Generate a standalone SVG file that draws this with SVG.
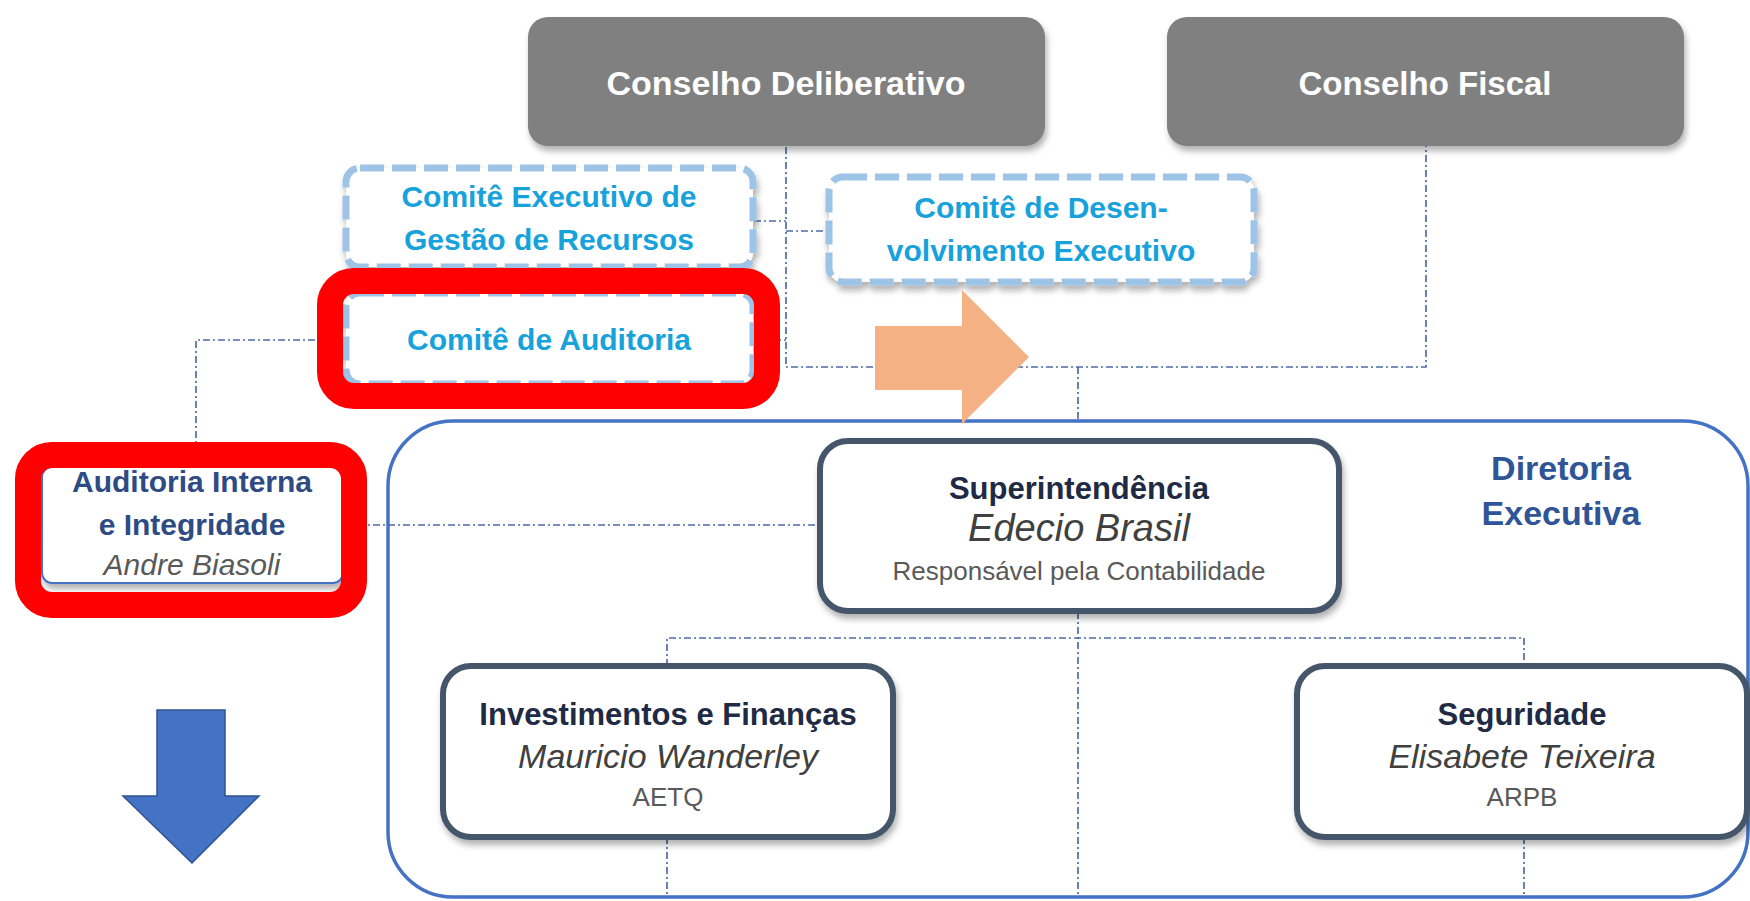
<svg xmlns="http://www.w3.org/2000/svg" width="1750" height="901" viewBox="0 0 1750 901">
<defs>
<filter id="sh" x="-10%" y="-20%" width="120%" height="150%">
<feDropShadow dx="2" dy="5" stdDeviation="3" flood-color="#000" flood-opacity="0.3"/>
</filter>
<style>
text{font-family:"Liberation Sans",Arial,sans-serif;text-anchor:middle}
.council{fill:#808080;filter:url(#sh)}
.ct{fill:#fff;font-weight:bold;font-size:34px}
.com{fill:#fff;stroke:#9DC3E6;stroke-width:7;stroke-dasharray:24 8;filter:url(#sh)}
.cmt{fill:#17A2DB;font-weight:bold;font-size:30px}
.dir{fill:#fff;stroke:#44546A;stroke-width:6;filter:url(#sh)}
.dt{fill:#1F2A44;font-weight:bold;font-size:31px}
.nm{fill:#404040;font-style:italic;font-size:34px}
.sub{fill:#595959;font-size:26px}
.conn{fill:none;stroke:#4F6BA6;stroke-width:1.7;stroke-dasharray:7 3 2 3}
.hl{fill:none;stroke:#FF0000;stroke-width:26}
</style>
</defs>
<rect width="1750" height="901" fill="#fff"/>

<g id="diretoria-executiva">
<rect x="388" y="421" width="1360" height="476" rx="65" fill="#fff" stroke="#4472C4" stroke-width="3.5"/>
<text x="1561" y="480" style="fill:#2F5597;font-weight:bold;font-size:34px">Diretoria</text>
<text x="1561" y="525" style="fill:#2F5597;font-weight:bold;font-size:34px">Executiva</text>
</g>

<g id="connectors">
<path class="conn" d="M786 147 V367 H1426 V146"/>
<path class="conn" d="M754 221 H786"/>
<path class="conn" d="M786 231 H828"/>
<path class="conn" d="M754 340 H786"/>
<path class="conn" d="M345 340 H196 V455"/>
<path class="conn" d="M1078 367 V421"/>
<path class="conn" d="M343 525 H820"/>
<path class="conn" d="M1078 612 V897"/>
<path class="conn" d="M667 666 V638 H1524 V666"/>
<path class="conn" d="M667 837 V897"/>
<path class="conn" d="M1524 837 V897"/>
</g>

<g id="conselho-deliberativo">
<rect class="council" x="528" y="17" width="517" height="129" rx="20"/>
<text class="ct" x="786" y="95">Conselho Deliberativo</text>
</g>
<g id="conselho-fiscal">
<rect class="council" x="1167" y="17" width="517" height="129" rx="20"/>
<text class="ct" x="1425" y="95" style="font-size:33px">Conselho Fiscal</text>
</g>

<g id="comite-executivo">
<rect class="com" x="346" y="168" width="407" height="99" rx="14"/>
<text class="cmt" x="549" y="207">Comitê Executivo de</text>
<text class="cmt" x="549" y="250">Gestão de Recursos</text>
</g>
<g id="comite-desenvolvimento">
<rect class="com" x="829" y="177" width="425" height="105" rx="14"/>
<text class="cmt" x="1041" y="218">Comitê de Desen-</text>
<text class="cmt" x="1041" y="261">volvimento Executivo</text>
</g>
<g id="comite-auditoria">
<rect class="com" x="346" y="293" width="407" height="91" rx="14"/>
<text class="cmt" x="549" y="350">Comitê de Auditoria</text>
</g>

<g id="auditoria-interna">
<rect x="42" y="467" width="301" height="116" rx="10" fill="#fff" stroke="#4472C4" stroke-width="2" filter="url(#sh)"/>
<text x="192" y="492" style="fill:#2E4B83;font-weight:bold;font-size:30px">Auditoria Interna</text>
<text x="192" y="535" style="fill:#2E4B83;font-weight:bold;font-size:30px">e Integridade</text>
<text x="192" y="575" style="fill:#595959;font-style:italic;font-size:30px">Andre Biasoli</text>
</g>

<g id="superintendencia">
<rect class="dir" x="820" y="441" width="519" height="170" rx="28"/>
<text class="dt" x="1079" y="499">Superintendência</text>
<text class="nm" x="1079" y="541" style="font-size:38px">Edecio Brasil</text>
<text class="sub" x="1079" y="580">Responsável pela Contabilidade</text>
</g>

<g id="investimentos">
<rect class="dir" x="443" y="666" width="450" height="171" rx="28"/>
<text class="dt" x="668" y="725">Investimentos e Finanças</text>
<text class="nm" x="668" y="768">Mauricio Wanderley</text>
<text class="sub" x="668" y="806">AETQ</text>
</g>

<g id="seguridade">
<rect class="dir" x="1297" y="666" width="450" height="171" rx="28"/>
<text class="dt" x="1522" y="725">Seguridade</text>
<text class="nm" x="1522" y="768">Elisabete Teixeira</text>
<text class="sub" x="1522" y="806">ARPB</text>
</g>

<g id="highlights">
<rect class="hl" x="330" y="281" width="437" height="115" rx="24"/>
<rect class="hl" x="28" y="455" width="326" height="150" rx="24"/>
</g>

<g id="arrows">
<polygon points="875,326 962,326 962,290 1029,357 962,424 962,390 875,390" fill="#F4B183"/>
<polygon points="157,710 225,710 225,796 259,796 192,863 123,796 157,796" fill="#4472C4" stroke="#2F528F" stroke-width="1.5"/>
</g>
</svg>
